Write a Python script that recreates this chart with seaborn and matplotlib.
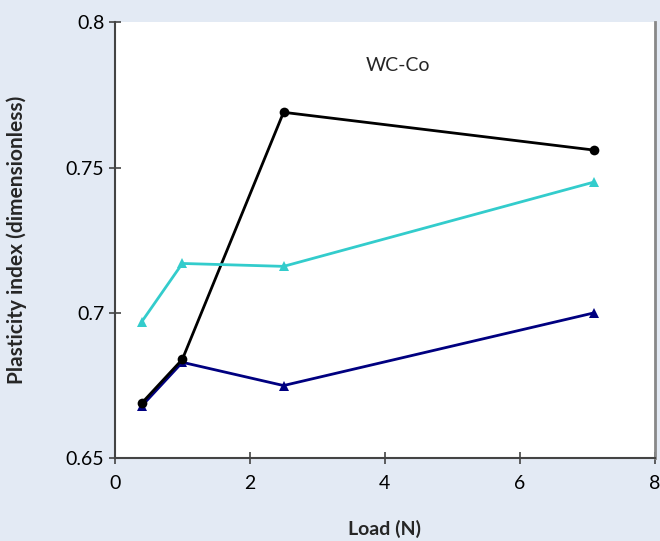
import numpy as np
import pandas as pd
import seaborn as sns
from matplotlib import pyplot as plt

load = [0.4, 1.0, 2.5, 7.1]
black_vals = [0.669, 0.684, 0.769, 0.756]
cyan_vals = [0.697, 0.717, 0.716, 0.745]
navy_vals = [0.668, 0.683, 0.675, 0.700]

df = pd.DataFrame({
    "Load": load * 3,
    "PI": black_vals + cyan_vals + navy_vals,
    "series": ["black"] * 4 + ["cyan"] * 4 + ["navy"] * 4,
})

sns.set_style("ticks")
plt.rcParams['font.family'] = ['Lato', 'DejaVu Sans']

fig = plt.figure(figsize=(6.6, 5.41), dpi=100, facecolor="#e3eaf4")
ax = fig.add_axes([0.174, 0.153, 0.818, 0.806])
ax.set_facecolor("white")

sns.lineplot(data=df, x="Load", y="PI", hue="series", style="series",
             palette={"black": "black", "cyan": "#33cccc", "navy": "#000080"},
             markers={"black": "o", "cyan": "^", "navy": "^"},
             dashes=False, markersize=7, markeredgewidth=0, linewidth=2,
             legend=False, ax=ax, zorder=3)

# navy line underneath black
for line in ax.lines:
    if line.get_color() in ("#000080",):
        line.set_zorder(2)

ax.set_xlim(0, 8)
ax.set_ylim(0.65, 0.8)
ax.set_xticks([0, 2, 4, 6, 8])
ax.set_yticks([0.65, 0.7, 0.75, 0.8])
ax.set_yticklabels(["0.65", "0.7", "0.75", "0.8"])
ax.tick_params(direction="inout", length=8, width=1.2, colors="#444444",
               labelcolor="black", labelsize=14)
ax.tick_params(axis="x", pad=8)
for s in ["left", "bottom"]:
    ax.spines[s].set_color("#444444")
    ax.spines[s].set_linewidth(1.5)
ax.spines["right"].set_color("#888888")
ax.spines["right"].set_linewidth(2)
ax.spines["top"].set_visible(False)

ax.set_xlabel("Load (N)", fontsize=14, fontweight="bold", labelpad=20)
ax.set_ylabel("Plasticity index (dimensionless)", fontsize=15, fontweight="bold", labelpad=28)
ax.text(4.2, 0.785, "WC-Co", fontsize=14, ha="center", va="center")

fig.savefig("out.png", dpi=100, facecolor=fig.get_facecolor())
